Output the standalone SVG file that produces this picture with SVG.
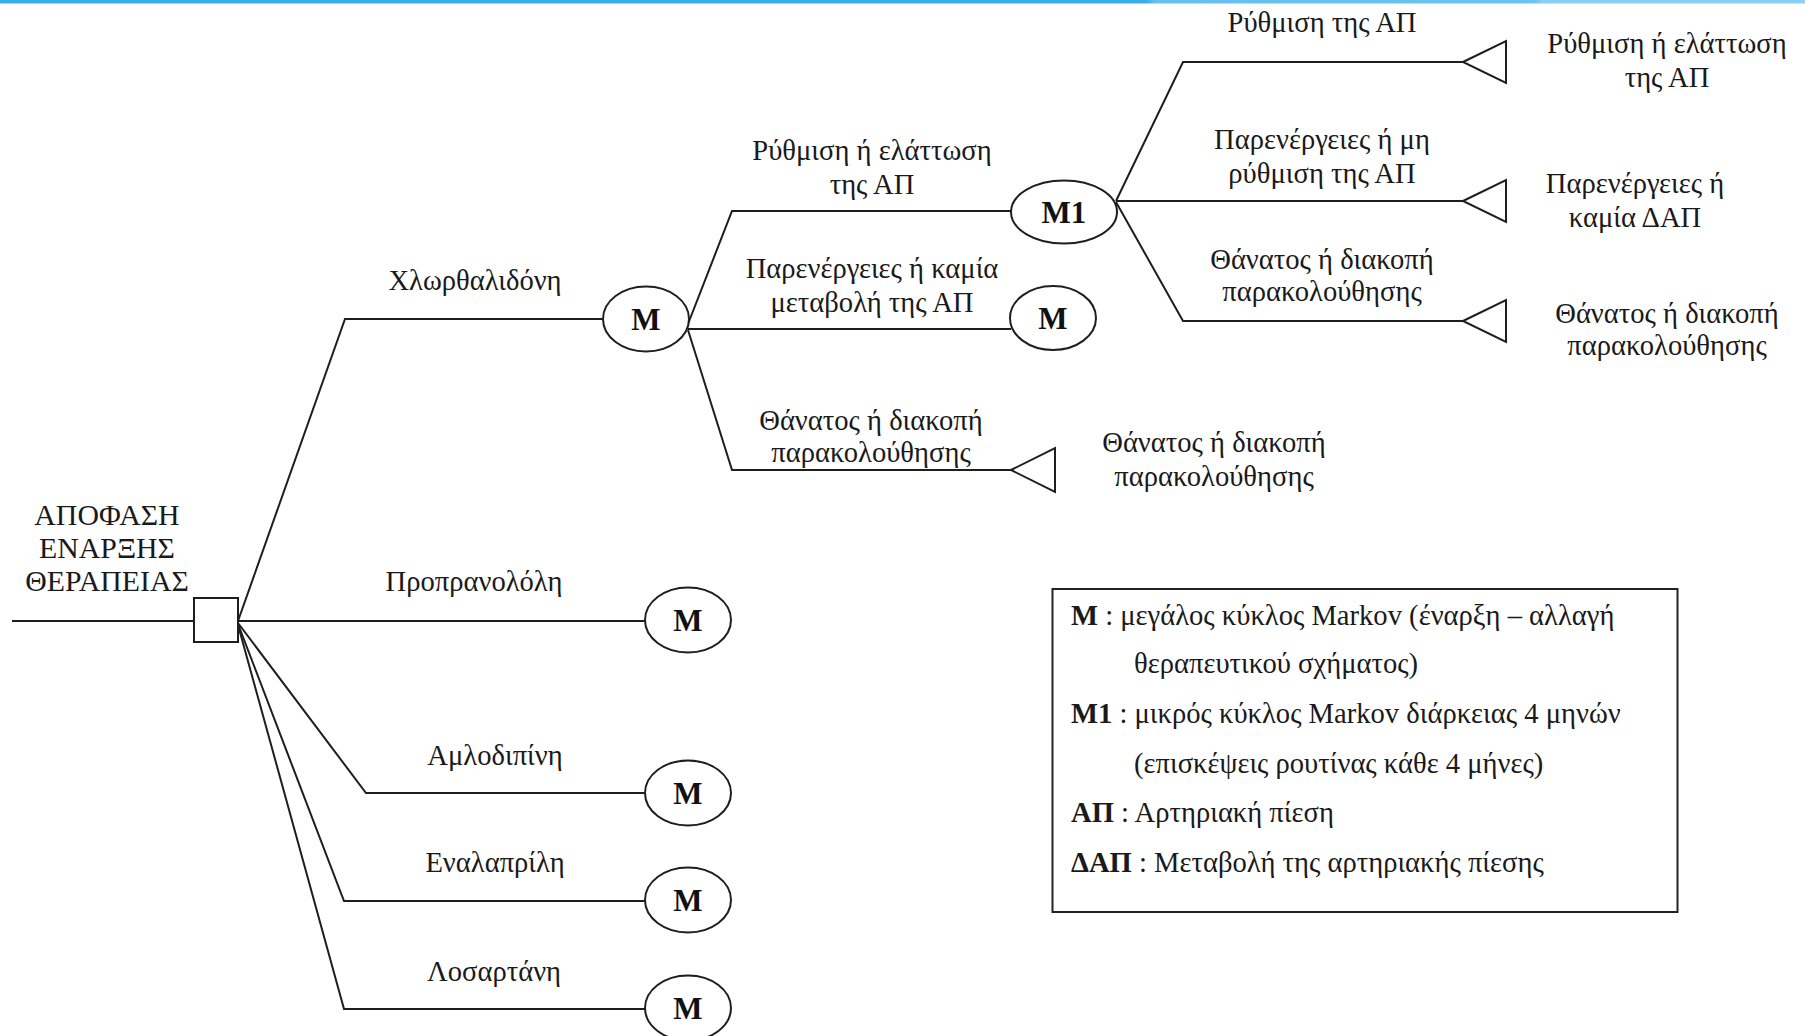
<svg xmlns="http://www.w3.org/2000/svg" width="1805" height="1036" viewBox="0 0 1805 1036">
<defs>
<linearGradient id="bar" x1="0" y1="0" x2="1805" y2="0" gradientUnits="userSpaceOnUse">
<stop offset="0" stop-color="#3aaee9"/>
<stop offset="0.635" stop-color="#3aaee9"/>
<stop offset="0.64" stop-color="#66c0ef"/>
<stop offset="0.85" stop-color="#6cc3f0"/>
<stop offset="0.855" stop-color="#8bd0f4"/>
<stop offset="1" stop-color="#8bd0f4"/>
</linearGradient>
<style>
.ln{fill:none;stroke:#1e1e1e;stroke-width:2}
.nd{fill:#fff;stroke:#1e1e1e;stroke-width:2}
.t{font-family:"Liberation Serif","Times New Roman",serif;font-size:28.6px;fill:#1a1a1a;text-anchor:middle}
.cap{font-size:29.8px}
.m{font-family:"Liberation Serif","Times New Roman",serif;font-size:31px;font-weight:bold;fill:#111;text-anchor:middle}
.lg{font-family:"Liberation Serif","Times New Roman",serif;font-size:28.6px;fill:#1a1a1a}
.b{font-weight:bold}
</style>
</defs>
<rect x="0" y="0" width="1805" height="1036" fill="#fff"/>
<rect x="0" y="0" width="1805" height="3.5" fill="url(#bar)"/>

<g id="connectors">
<path class="ln" d="M12 621 H194"/>
<path class="ln" d="M238 621 L345 319 H603"/>
<path class="ln" d="M238 621 H645"/>
<path class="ln" d="M238 623 L366 793 H645"/>
<path class="ln" d="M238 624 L344 901 H645"/>
<path class="ln" d="M238 625 L344 1009 H645"/>
<path class="ln" d="M688 324 L732 211 H1011"/>
<path class="ln" d="M688 329 H1011"/>
<path class="ln" d="M688 330 L732 470 H1011"/>
<path class="ln" d="M1116 201 L1183 62 H1463"/>
<path class="ln" d="M1116 201 H1463"/>
<path class="ln" d="M1116 202 L1183 321 H1463"/>
</g>

<g id="decision">
<rect class="nd" x="194" y="598" width="44" height="44"/>
<text class="t cap" x="107" y="525">ΑΠΟΦΑΣΗ</text>
<text class="t cap" x="107" y="558">ΕΝΑΡΞΗΣ</text>
<text class="t cap" x="107" y="591">ΘΕΡΑΠΕΙΑΣ</text>
</g>

<g id="label-chlor"><text class="t" x="475" y="290">Χλωρθαλιδόνη</text></g>
<g id="label-prop"><text class="t" x="474" y="591">Προπρανολόλη</text></g>
<g id="label-amlo"><text class="t" x="495" y="765">Αμλοδιπίνη</text></g>
<g id="label-enal"><text class="t" x="495" y="872">Εναλαπρίλη</text></g>
<g id="label-losa"><text class="t" x="494" y="981">Λοσαρτάνη</text></g>

<g id="node-m-chlor"><ellipse class="nd" cx="646" cy="319" rx="43" ry="32.5"/><text class="m" x="646" y="330">M</text></g>
<g id="node-m-prop"><ellipse class="nd" cx="688" cy="620" rx="43" ry="32.5"/><text class="m" x="688" y="631">M</text></g>
<g id="node-m-amlo"><ellipse class="nd" cx="688" cy="793" rx="43" ry="32.5"/><text class="m" x="688" y="804">M</text></g>
<g id="node-m-enal"><ellipse class="nd" cx="688" cy="900" rx="43" ry="32.5"/><text class="m" x="688" y="911">M</text></g>
<g id="node-m-losa"><ellipse class="nd" cx="688" cy="1008" rx="43" ry="32.5"/><text class="m" x="688" y="1019">M</text></g>

<g id="label-b1"><text class="t" x="872" y="160">Ρύθμιση ή ελάττωση</text><text class="t" x="872" y="194">της ΑΠ</text></g>
<g id="label-b2"><text class="t" x="872" y="278">Παρενέργειες ή καμία</text><text class="t" x="872" y="312">μεταβολή της ΑΠ</text></g>
<g id="label-b3"><text class="t" x="871" y="430">Θάνατος ή διακοπή</text><text class="t" x="871" y="462">παρακολούθησης</text></g>

<g id="node-m1"><ellipse class="nd" cx="1064" cy="212" rx="53" ry="31.5"/><text class="m" x="1064" y="223">M1</text></g>
<g id="node-m-mid"><ellipse class="nd" cx="1053" cy="318" rx="43" ry="32"/><text class="m" x="1053" y="329">M</text></g>
<g id="node-term-b3">
<path class="nd" d="M1011 470 L1055 448 V492 Z"/>
<text class="t" x="1214" y="452">Θάνατος ή διακοπή</text><text class="t" x="1214" y="486">παρακολούθησης</text>
</g>

<g id="label-c1"><text class="t" x="1322" y="32">Ρύθμιση της ΑΠ</text></g>
<g id="label-c2"><text class="t" x="1322" y="149">Παρενέργειες ή μη</text><text class="t" x="1322" y="183">ρύθμιση της ΑΠ</text></g>
<g id="label-c3"><text class="t" x="1322" y="269">Θάνατος ή διακοπή</text><text class="t" x="1322" y="301">παρακολούθησης</text></g>

<g id="node-term-c1">
<path class="nd" d="M1463 62 L1506 41 V83 Z"/>
<text class="t" x="1667" y="53">Ρύθμιση ή ελάττωση</text><text class="t" x="1667" y="87">της ΑΠ</text>
</g>
<g id="node-term-c2">
<path class="nd" d="M1463 201 L1506 180 V222 Z"/>
<text class="t" x="1635" y="193">Παρενέργειες ή</text><text class="t" x="1635" y="227">καμία ΔΑΠ</text>
</g>
<g id="node-term-c3">
<path class="nd" d="M1463 321 L1506 300 V342 Z"/>
<text class="t" x="1667" y="323">Θάνατος ή διακοπή</text><text class="t" x="1667" y="355">παρακολούθησης</text>
</g>

<g id="legend">
<rect x="1052.5" y="589" width="625" height="323" fill="#fff" stroke="#222" stroke-width="2"/>
<text class="lg" x="1071" y="625"><tspan class="b">M</tspan> : μεγάλος κύκλος Markov (έναρξη – αλλαγή</text>
<text class="lg" x="1134" y="673">θεραπευτικού σχήματος)</text>
<text class="lg" x="1071" y="723"><tspan class="b">M1</tspan> : μικρός κύκλος Markov διάρκειας 4 μηνών</text>
<text class="lg" x="1134" y="773">(επισκέψεις ρουτίνας κάθε 4 μήνες)</text>
<text class="lg" x="1071" y="822"><tspan class="b">ΑΠ</tspan> : Αρτηριακή πίεση</text>
<text class="lg" x="1071" y="872"><tspan class="b">ΔΑΠ</tspan> : Μεταβολή της αρτηριακής πίεσης</text>
</g>
</svg>
